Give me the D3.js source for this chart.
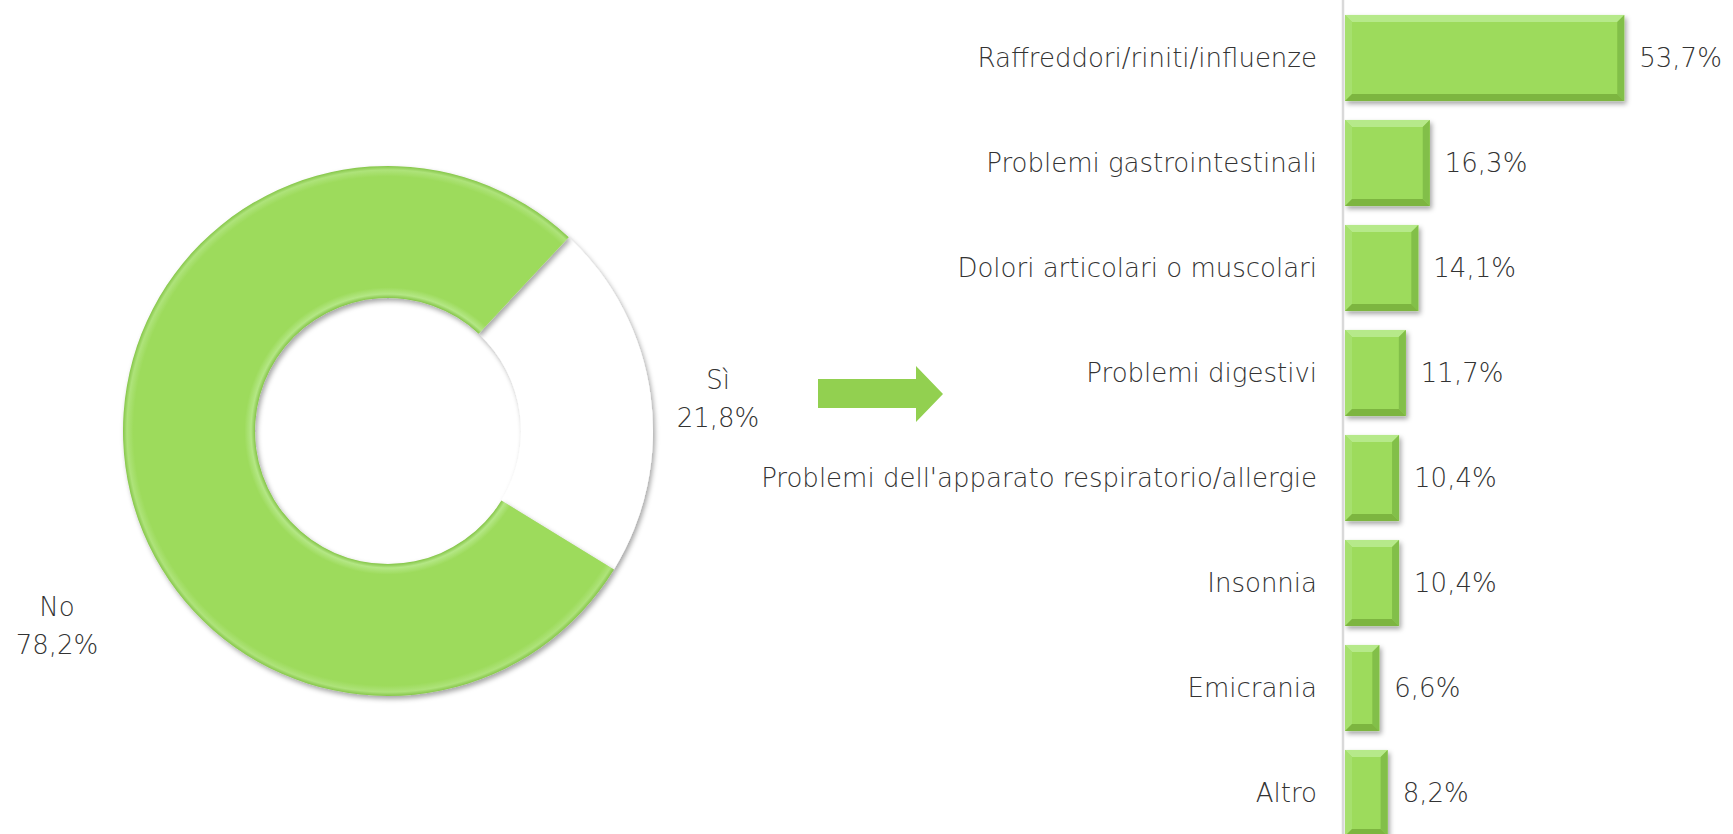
<!DOCTYPE html>
<html><head><meta charset="utf-8">
<script src="https://cdn.jsdelivr.net/npm/d3@7"></script>
<style>
html,body{margin:0;padding:0;background:#fff;}
svg{display:block;}
text{font-family:"DejaVu Sans",sans-serif;font-weight:200;fill:#333333;}
</style></head>
<body>
<script>
const pieCategories = ["Sì", "No"];
const pieValues = [21.8, 78.2];
const pieLabels = ["21,8%", "78,2%"];

const barCategories = ["Raffreddori/riniti/influenze","Problemi gastrointestinali","Dolori articolari o muscolari","Problemi digestivi","Problemi dell'apparato respiratorio/allergie","Insonnia","Emicrania","Altro"];
const barValues = [53.7, 16.3, 14.1, 11.7, 10.4, 10.4, 6.6, 8.2];
const barLabels = ["53,7%","16,3%","14,1%","11,7%","10,4%","10,4%","6,6%","8,2%"];

const W = 1733, H = 834;
const FS = "26px";
const svg = d3.select("body").append("svg").attr("width", W).attr("height", H);
const defs = svg.append("defs");

const sh = defs.append("filter").attr("id","shadow").attr("x","-20%").attr("y","-20%").attr("width","140%").attr("height","140%");
sh.append("feDropShadow").attr("dx",2).attr("dy",3).attr("stdDeviation",2.5).attr("flood-color","#000").attr("flood-opacity",0.35);

// ---- Donut ----
const cx = 388, cy = 431, R = 265, r0 = 133;
const rg = defs.append("radialGradient").attr("id","ringGrad").attr("gradientUnits","userSpaceOnUse")
  .attr("cx",0).attr("cy",0).attr("r",R);
const k = r0 / R;
[[k,"#86c64a"],[k+0.015,"#b4e785"],[k+0.04,"#9ddb5c"],[0.96,"#9ddb5c"],[0.985,"#aee37a"],[1,"#86c64a"]]
  .forEach(([o,c]) => rg.append("stop").attr("offset",o).attr("stop-color",c));

const start = 43 * Math.PI / 180;
const pie = d3.pie().sort(null).startAngle(start).endAngle(start + 2*Math.PI);
const arcs = pie(pieValues);
const arc = d3.arc().innerRadius(r0).outerRadius(R);
const g = svg.append("g").attr("transform", `translate(${cx},${cy})`);
g.selectAll("path.slice").data(arcs).join("path")
  .attr("class","slice")
  .attr("d", arc)
  .attr("fill", (d,i) => i === 0 ? "#ffffff" : "url(#ringGrad)")
  .attr("filter","url(#shadow)");

// pie labels (placement offsets relative to center)
const labelPos = [[330, -31], [-331, 196]];
arcs.forEach((d,i) => {
  const t = g.append("text").attr("text-anchor","middle").style("font-size",FS);
  t.append("tspan").attr("x", labelPos[i][0]).attr("y", labelPos[i][1] - 11).text(pieCategories[i]);
  t.append("tspan").attr("x", labelPos[i][0]).attr("y", labelPos[i][1] + 27).text(pieLabels[i]);
});

// ---- Arrow ----
svg.append("path")
  .attr("d","M818,379 L916,379 L916,366 L943,394 L916,422 L916,408 L818,408 Z")
  .attr("fill","#92d050");

// ---- Bars ----
const x0 = 1345;
const x = d3.scaleLinear().domain([0, 100]).range([x0, x0 + 520]);
const y = d3.scaleBand().domain(barCategories).range([5.5, 845.5]).paddingInner(0.18).paddingOuter(0.09);

const bg = svg.append("g");
const b = 7;
barCategories.forEach((c,i) => {
  const xa = x(0), xb = x(barValues[i]), ya = y(c), yb = y(c) + y.bandwidth();
  const grp = bg.append("g").attr("filter","url(#shadow)");
  grp.append("rect").attr("x",xa).attr("y",ya).attr("width",xb-xa).attr("height",yb-ya).attr("fill","#9ddb5c");
  const poly = (pts, fill) => grp.append("polygon").attr("points", pts.map(p=>p.join(",")).join(" ")).attr("fill", fill);
  poly([[xa,ya],[xb,ya],[xb-b,ya+b],[xa+b,ya+b]], "#b6e98a");
  poly([[xa,ya],[xa+b,ya+b],[xa+b,yb-b],[xa,yb]], "#a6e06e");
  poly([[xb,ya],[xb,yb],[xb-b,yb-b],[xb-b,ya+b]], "#82bf48");
  poly([[xa,yb],[xa+b,yb-b],[xb-b,yb-b],[xb,yb]], "#7db541");
  svg.append("text").attr("x", xb + 15).attr("y", ya + y.bandwidth()/2).attr("dy","0.35em")
    .style("font-size",FS).text(barLabels[i]);
  svg.append("text").attr("x", 1317).attr("y", ya + y.bandwidth()/2).attr("dy","0.35em")
    .attr("text-anchor","end").style("font-size",FS).text(c);
});

// axis line
svg.append("line").attr("x1",1343).attr("x2",1343).attr("y1",0).attr("y2",H)
  .attr("stroke","#d9d9d9").attr("stroke-width",2.5);
</script>
</body></html>
